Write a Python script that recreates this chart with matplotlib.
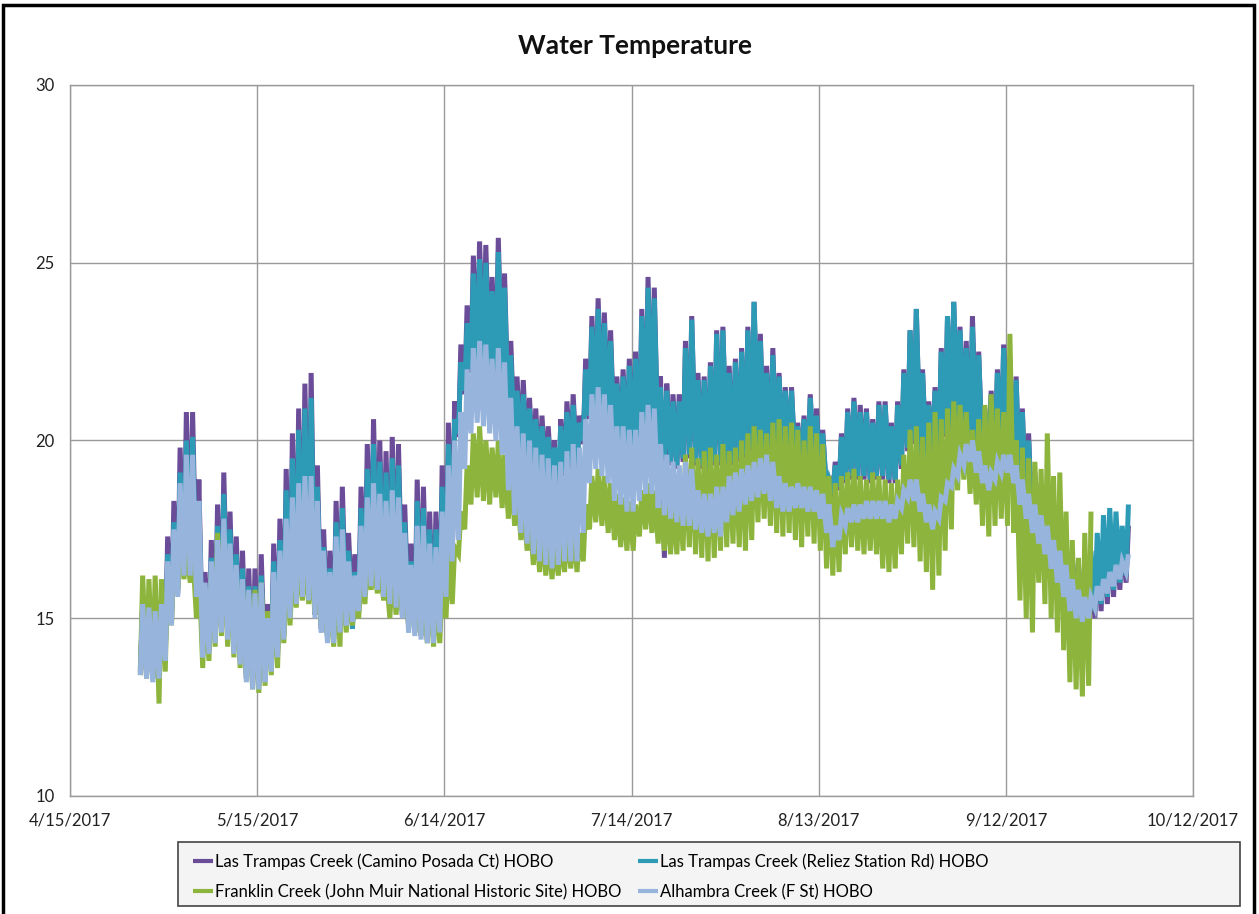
import datetime as dt
import numpy as np
import matplotlib
matplotlib.use("Agg")
import matplotlib.pyplot as plt
import matplotlib.dates as mdates
from matplotlib.patches import Rectangle

plt.rcParams['font.family'] = ['Lato', 'DejaVu Sans']

# daily max / min readings (deg C), first day 4/26/2017
purple_max = [15.4, 15.3, 15.2, 15.4, 17.3, 18.3, 19.8, 20.8, 20.8, 18.9,
              16.3, 17.2, 18.2, 19.1, 18.0, 17.3, 16.9, 16.4, 16.4, 16.8,
              15.4, 17.1, 17.8, 19.2, 20.2, 20.9, 21.6, 21.9, 19.3, 17.5,
              16.9, 18.3, 18.7, 17.4, 16.8, 18.7, 19.9, 20.6, 20.0, 19.7,
              20.1, 19.9, 18.2, 17.1, 18.9, 18.7, 18.0, 18.0, 19.3, 20.5,
              21.1, 22.7, 23.8, 25.2, 25.6, 25.5, 24.6, 25.7, 24.7, 22.8,
              21.8, 21.7, 21.2, 20.9, 20.7, 20.4, 20.0, 20.6, 21.1, 21.3,
              20.7, 22.3, 23.5, 24.0, 23.6, 23.1, 21.8, 22.0, 22.3, 22.5,
              23.7, 24.6, 24.3, 21.8, 21.6, 21.3, 21.3, 22.8, 23.5, 21.9,
              21.8, 22.2, 23.1, 23.2, 22.1, 22.3, 22.6, 23.2, 23.9, 23.0,
              22.1, 22.6, 21.9, 21.5, 21.5, 20.5, 20.7, 21.3, 20.9, 20.3,
              19.0, 19.4, 20.2, 20.9, 21.2, 21.0, 20.9, 20.6, 21.1, 21.1,
              20.5, 21.1, 22.0, 23.1, 23.7, 22.0, 21.1, 21.5, 22.6, 23.5,
              23.9, 23.2, 22.8, 23.5, 22.5, 20.9, 21.4, 22.0, 22.7, 22.3,
              21.8, 20.9, 20.2, 19.1, 18.8, 18.4, 18.0, 17.6, 17.2, 16.8,
              16.5, 16.4, 16.6, 16.9, 17.2, 17.4, 17.6, 17.2, 17.6]
purple_min = [13.5, 13.4, 13.3, 13.4, 13.9, 14.9, 15.7, 16.3, 16.3, 15.7,
              14.0, 14.1, 14.4, 14.7, 14.5, 14.1, 13.8, 13.3, 13.1, 13.1,
              13.3, 13.6, 14.0, 14.5, 15.1, 15.5, 15.7, 15.6, 15.1, 14.7,
              14.4, 14.4, 14.7, 14.8, 14.8, 15.2, 15.7, 16.0, 15.9, 15.7,
              15.5, 15.4, 15.1, 14.7, 14.6, 14.5, 14.4, 14.4, 14.7, 15.7,
              16.7, 20.1, 21.3, 21.9, 22.1, 22.0, 21.6, 21.9, 21.5, 20.5,
              19.7, 19.5, 19.3, 19.1, 18.9, 18.8, 18.6, 16.3, 19.0, 19.2,
              19.1, 19.9, 20.6, 20.8, 20.6, 20.3, 19.7, 19.7, 19.6, 19.6,
              19.8, 20.1, 20.2, 19.6, 16.7, 19.3, 19.2, 19.4, 19.5, 19.3,
              19.2, 19.1, 19.3, 19.3, 19.2, 19.3, 19.4, 19.5, 19.7, 19.6,
              19.4, 19.5, 19.3, 19.2, 19.2, 19.1, 19.1, 19.2, 19.1, 18.9,
              18.5, 18.4, 18.6, 18.8, 18.9, 18.9, 18.9, 18.8, 18.9, 18.9,
              18.8, 18.8, 19.2, 19.7, 19.9, 19.5, 19.2, 19.3, 19.7, 20.1,
              20.3, 20.2, 20.0, 19.8, 19.6, 19.3, 19.2, 19.4, 19.6, 19.5,
              19.1, 18.1, 17.6, 17.2, 16.9, 16.6, 16.2, 15.8, 15.4, 15.0,
              14.8, 14.7, 14.8, 15.0, 15.2, 15.4, 15.6, 15.8, 16.0]
teal_max = [15.2, 15.1, 15.0, 15.2, 16.8, 17.7, 19.1, 20.0, 20.1, 18.3,
            15.9, 16.7, 17.6, 18.5, 17.5, 16.8, 16.4, 15.9, 15.9, 16.2,
            15.0, 16.6, 17.2, 18.6, 19.5, 20.3, 20.9, 21.2, 18.7, 17.0,
            16.4, 17.7, 18.1, 16.9, 16.3, 18.1, 19.2, 19.9, 19.4, 19.1,
            19.5, 19.3, 17.7, 16.6, 18.3, 18.1, 17.5, 17.5, 18.7, 19.9,
            20.6, 22.2, 23.3, 24.7, 25.1, 25.0, 24.2, 25.3, 24.3, 22.4,
            21.4, 21.3, 20.9, 20.6, 20.4, 20.1, 19.8, 20.4, 20.8, 21.0,
            20.5, 22.0, 23.2, 23.7, 23.3, 22.8, 21.6, 21.8, 22.1, 22.3,
            23.5, 24.3, 24.0, 21.5, 21.4, 21.1, 21.1, 22.6, 23.4, 21.7,
            21.7, 22.1, 23.0, 23.1, 21.9, 22.2, 22.5, 23.1, 23.9, 22.8,
            21.9, 22.4, 21.8, 21.4, 21.4, 20.4, 20.6, 21.2, 20.7, 20.2,
            18.9, 19.3, 20.1, 20.8, 21.1, 20.8, 20.8, 20.5, 21.0, 21.0,
            20.4, 21.0, 21.9, 23.1, 23.7, 21.9, 21.0, 21.4, 22.5, 23.5,
            23.9, 23.1, 22.6, 23.2, 22.4, 20.8, 21.3, 21.9, 22.6, 22.1,
            21.7, 20.8, 20.0, 19.0, 18.7, 18.3, 17.9, 17.5, 17.1, 16.7,
            16.4, 16.3, 16.9, 17.4, 17.9, 18.1, 18.0, 17.6, 18.2]
teal_min = [13.6, 13.5, 13.4, 13.5, 14.0, 15.0, 15.8, 16.4, 16.4, 15.8,
            14.1, 14.2, 14.5, 14.8, 14.6, 14.2, 13.9, 13.4, 13.2, 13.2,
            13.4, 13.7, 14.1, 14.6, 15.2, 15.6, 15.8, 15.7, 15.2, 14.8,
            14.5, 14.5, 14.8, 14.9, 14.7, 15.3, 15.8, 16.1, 16.0, 15.8,
            15.6, 15.5, 15.2, 14.8, 14.7, 14.6, 14.5, 14.5, 14.8, 15.8,
            16.8, 20.2, 21.4, 22.0, 22.2, 22.1, 21.7, 22.0, 21.6, 20.6,
            19.8, 19.6, 19.4, 19.2, 19.0, 18.9, 18.7, 18.8, 19.1, 19.3,
            19.2, 20.0, 20.7, 20.9, 20.7, 20.4, 19.8, 19.8, 19.7, 19.7,
            19.9, 20.2, 20.3, 19.7, 19.5, 19.4, 19.3, 19.5, 19.6, 19.4,
            19.3, 19.2, 19.4, 19.4, 19.3, 19.4, 19.5, 19.6, 19.8, 19.7,
            19.5, 19.6, 19.4, 19.3, 19.3, 19.2, 19.2, 19.3, 19.2, 19.0,
            18.6, 18.5, 18.7, 18.9, 19.0, 19.0, 19.0, 18.9, 19.0, 19.0,
            18.9, 18.9, 19.3, 19.8, 20.0, 19.6, 19.3, 19.4, 19.8, 20.2,
            20.4, 20.3, 20.1, 19.9, 19.7, 19.4, 19.3, 19.5, 19.7, 19.6,
            19.2, 18.3, 17.8, 17.4, 17.1, 16.8, 16.4, 16.0, 15.6, 15.2,
            14.9, 14.8, 14.9, 15.2, 15.4, 15.6, 15.8, 16.0, 16.2]
green_max = [16.2, 16.1, 16.2, 16.1, 16.4, 17.0, 17.1, 17.0, 16.9, 16.6,
             15.8, 16.3, 17.4, 17.3, 16.8, 16.3, 15.9, 15.7, 15.8, 16.0,
             15.2, 15.8, 16.2, 16.5, 16.4, 16.7, 16.8, 16.7, 16.3, 15.8,
             15.5, 16.8, 16.6, 16.0, 15.6, 16.2, 16.5, 16.6, 16.5, 16.3,
             16.4, 16.3, 16.0, 15.8, 16.4, 16.2, 16.0, 15.8, 16.0, 16.8,
             17.0, 18.0, 19.3, 20.2, 20.4, 20.0, 19.8, 20.0, 19.6, 19.2,
             18.8, 18.3, 18.0, 17.8, 17.5, 17.4, 17.2, 17.3, 17.5, 17.6,
             17.4, 18.2, 19.0, 19.2, 19.0, 18.8, 18.5, 18.4, 18.3, 18.2,
             18.6, 18.8, 18.6, 18.2, 18.3, 18.4, 18.5, 19.6, 19.8, 19.5,
             19.7, 19.8, 19.6, 19.9, 19.7, 19.8, 20.0, 20.2, 20.4, 20.3,
             20.2, 20.5, 20.6, 20.4, 20.5, 20.3, 20.0, 20.4, 20.2, 19.9,
             19.0, 18.8, 19.0, 19.1, 19.2, 19.0, 18.9, 19.1, 19.0, 18.9,
             18.8, 18.9, 19.6, 20.3, 20.4, 20.1, 20.5, 20.8, 20.6, 20.9,
             21.1, 21.0, 20.8, 20.3, 20.6, 21.0, 21.3, 20.9, 20.8, 23.0,
             20.0, 19.8, 19.5, 19.4, 19.2, 20.2, 19.0, 19.1, 18.0, 17.2,
             16.7, 17.4, 18.0]
green_min = [13.4, 13.3, 13.3, 12.6, 13.5, 14.8, 15.8, 16.1, 16.0, 15.0,
             13.6, 13.8, 14.2, 14.5, 14.2, 13.9, 13.6, 13.3, 13.0, 12.9,
             13.1, 13.4, 13.6, 14.3, 14.8, 15.3, 15.5, 15.4, 15.1, 14.8,
             14.5, 14.2, 14.2, 14.6, 14.8, 15.0, 15.4, 15.8, 15.7, 15.5,
             15.0, 15.1, 15.2, 14.8, 14.6, 14.5, 14.3, 14.2, 14.3, 15.0,
             15.4, 16.8, 17.5, 18.2, 18.4, 18.3, 18.2, 18.4, 18.1, 17.8,
             17.6, 17.2, 16.9, 16.5, 16.3, 16.2, 16.1, 16.2, 16.3, 16.4,
             16.3, 16.6, 17.5, 17.7, 17.6, 17.4, 17.2, 17.0, 16.9, 16.9,
             17.3, 17.5, 17.4, 17.1, 16.9, 16.8, 16.8, 16.9, 17.0, 16.8,
             16.7, 16.6, 16.7, 16.9, 17.0, 17.1, 17.0, 16.9, 17.2, 17.7,
             17.8, 17.6, 17.4, 17.3, 17.4, 17.2, 17.0, 17.3, 17.1, 16.9,
             16.4, 16.2, 16.3, 16.8, 17.0, 16.9, 16.8, 16.9, 16.8, 16.4,
             16.3, 16.4, 16.8, 17.1, 17.0, 16.6, 16.3, 15.8, 16.2, 16.9,
             17.5, 18.6, 18.9, 18.5, 18.2, 17.6, 17.3, 17.6, 17.8, 17.6,
             17.4, 15.5, 15.0, 14.6, 16.0, 15.4, 15.0, 14.6, 14.1, 13.2,
             13.0, 12.8, 13.1]
alhambra_max = [15.4, 15.3, 15.2, 15.4, 16.6, 17.5, 18.8, 19.6, 19.6, 18.3,
                16.0, 16.6, 17.2, 17.8, 17.1, 16.5, 16.1, 15.8, 15.7, 16.0,
                15.0, 16.3, 16.9, 17.8, 18.4, 18.8, 19.0, 19.0, 18.3, 16.9,
                16.3, 17.3, 17.5, 16.6, 16.2, 17.6, 18.4, 18.8, 18.5, 18.3,
                18.6, 18.4, 17.4, 16.5, 17.6, 17.6, 17.1, 17.0, 18.0, 19.3,
                20.0, 20.8, 22.0, 22.6, 22.8, 22.7, 22.3, 22.6, 22.2, 21.2,
                20.4, 20.2, 20.0, 19.8, 19.6, 19.5, 19.3, 19.4, 19.7, 19.9,
                19.8, 20.6, 21.3, 21.5, 21.3, 21.0, 20.4, 20.4, 20.3, 20.3,
                20.8, 21.0, 20.9, 19.9, 19.6, 19.4, 19.3, 19.4, 19.2, 18.6,
                18.5, 18.5, 18.7, 18.7, 19.0, 19.1, 19.2, 19.3, 19.4, 19.5,
                19.6, 19.4, 19.0, 18.8, 18.7, 18.8, 18.7, 18.7, 18.6, 18.5,
                18.2, 17.6, 17.9, 18.1, 18.2, 18.2, 18.3, 18.3, 18.3, 18.3,
                18.2, 18.3, 18.6, 18.9, 18.9, 18.5, 18.2, 18.0, 18.4, 18.8,
                19.2, 19.6, 19.9, 20.0, 19.7, 19.3, 19.1, 19.4, 19.6, 19.6,
                19.3, 18.9, 18.5, 18.2, 17.9, 17.6, 17.2, 16.9, 16.5, 16.1,
                15.8, 15.6, 15.6, 15.9, 16.1, 16.3, 16.5, 16.6, 16.8]
alhambra_min = [13.4, 13.3, 13.2, 13.3, 13.8, 14.8, 15.6, 16.2, 16.2, 15.6,
                13.9, 14.0, 14.3, 14.6, 14.4, 14.0, 13.7, 13.2, 13.0, 13.0,
                13.2, 13.5, 13.9, 14.4, 15.0, 15.4, 15.6, 15.5, 15.0, 14.6,
                14.3, 14.3, 14.6, 14.8, 14.9, 15.2, 15.6, 15.9, 15.8, 15.6,
                15.4, 15.3, 15.0, 14.6, 14.5, 14.4, 14.3, 14.3, 14.6, 15.6,
                16.6, 17.2, 19.2, 20.2, 20.5, 20.4, 20.2, 20.0, 19.6, 18.6,
                17.9, 17.4, 17.1, 16.8, 16.6, 16.5, 16.4, 16.5, 16.6, 16.6,
                16.6, 17.4, 18.8, 19.2, 19.0, 18.8, 18.3, 18.2, 18.0, 18.0,
                18.3, 18.5, 18.5, 18.1, 17.9, 17.8, 17.7, 17.6, 17.6, 17.5,
                17.4, 17.3, 17.4, 17.3, 17.7, 17.9, 18.0, 18.2, 18.3, 18.4,
                18.5, 18.3, 18.1, 18.0, 18.0, 18.1, 18.1, 18.0, 18.0, 17.8,
                17.4, 17.0, 17.2, 17.6, 17.7, 17.7, 17.8, 17.8, 17.8, 17.8,
                17.7, 17.8, 18.1, 18.4, 18.3, 18.0, 17.7, 17.5, 17.8, 18.3,
                18.7, 19.0, 19.3, 19.4, 19.1, 18.8, 18.6, 18.9, 19.1, 19.1,
                18.8, 18.2, 17.8, 17.4, 17.1, 16.8, 16.4, 16.0, 15.6, 15.2,
                15.0, 14.9, 15.0, 15.3, 15.5, 15.7, 15.9, 16.1, 16.3]

labels = ['Las Trampas Creek (Camino Posada Ct) HOBO',
          'Las Trampas Creek (Reliez Station Rd) HOBO',
          'Franklin Creek (John Muir National Historic Site) HOBO',
          'Alhambra Creek (F St) HOBO']
colors = ['#6a4c98', '#2e9bb6', '#8db43c', '#97b4dc']

first_day = dt.datetime(2017, 4, 26)
tick_dates = [dt.datetime(2017, 4, 15) + dt.timedelta(days=30 * i) for i in range(7)]


def zigzag(mins, maxs):
    # morning minimum, afternoon maximum for every day
    n = len(mins)
    t = np.empty(2 * n)
    v = np.empty(2 * n)
    t[0::2] = np.arange(n) + 0.27
    t[1::2] = np.arange(n) + 0.65
    v[0::2] = mins
    v[1::2] = maxs
    return mdates.date2num(first_day) + t, v


W, H = 1259, 914
fig = plt.figure(figsize=(W / 100, H / 100), dpi=100)
ax = fig.add_axes([70 / W, 1 - 796 / H, (1193 - 70) / W, (796 - 85) / H])

series = [(purple_min, purple_max), (teal_min, teal_max),
          (green_min, green_max), (alhambra_min, alhambra_max)]
handles = []
for i, (lo, hi) in enumerate(series):
    x, y = zigzag(lo, hi)
    line, = ax.plot(x, y, color=colors[i], lw=3.6, zorder=3 + i,
                    solid_joinstyle='miter', solid_capstyle='butt')
    handles.append(line)

ax.set_xlim(mdates.date2num(tick_dates[0]), mdates.date2num(tick_dates[-1]))
ax.set_ylim(10, 30)
ax.set_xticks(mdates.date2num(tick_dates))
ax.set_xticklabels([f"{d.month}/{d.day}/{d.year}" for d in tick_dates])
ax.set_yticks([10, 15, 20, 25, 30])
ax.tick_params(length=0, labelsize=12, colors='#222222')
ax.tick_params(axis='x', pad=12)
ax.tick_params(axis='y', pad=11)
ax.grid(True, color='#9a9a9a', lw=1)
ax.set_axisbelow(True)
for s in ax.spines.values():
    s.set_color('#9a9a9a')
    s.set_linewidth(1)

fig.text(635 / W, 1 - 46 / H, 'Water Temperature', ha='center', va='center',
         fontsize=19, fontweight='bold', color='#111111')

# legend box; columns: Camino / Franklin, Reliez / Alhambra
fig.patches.append(Rectangle((178 / W, 1 - 906 / H), (1240 - 178) / W, (906 - 842) / H,
                             transform=fig.transFigure, facecolor='#f4f4f4',
                             edgecolor='#444444', lw=1.2, zorder=0))
order = [0, 2, 1, 3]
leg = fig.legend([handles[i] for i in order], [labels[i] for i in order],
                 loc='upper left', ncol=2,
                 bbox_to_anchor=(180 / W, 1 - 840 / H), frameon=False,
                 fontsize=12, handlelength=1.2, handletextpad=0.1,
                 columnspacing=1.0, labelspacing=0.85, borderpad=0.3)
for h in leg.legend_handles:
    h.set_linewidth(3)

# outer frame
fig.patches.append(Rectangle((3 / W, -0.02), (1254 - 3) / W, 1.02 - 5 / H,
                             transform=fig.transFigure, fill=False,
                             edgecolor='black', lw=2.5))

fig.savefig('out.png', dpi=100)
